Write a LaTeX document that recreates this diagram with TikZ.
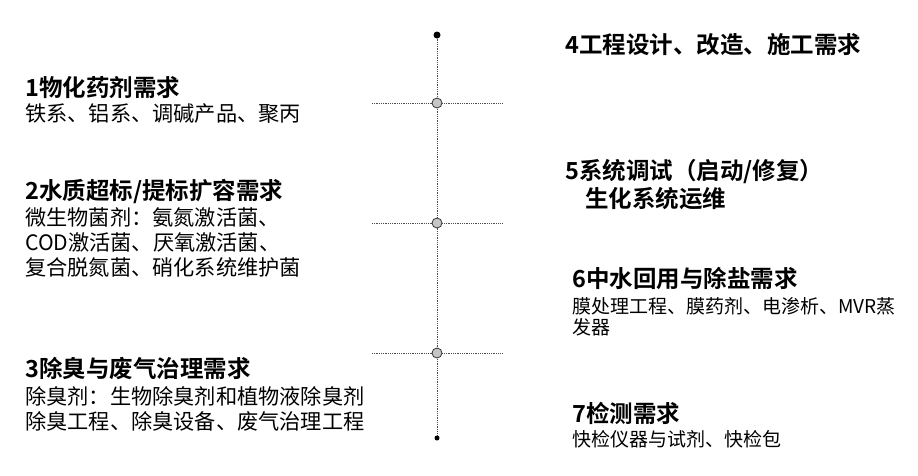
\documentclass[tikz,border=0pt]{standalone}
\usepackage{fontspec}
\setmainfont{Noto Sans CJK SC}
\newfontfamily\cjkb{Noto Sans CJK SC Bold}
\begin{document}
\begin{tikzpicture}[x=1pt,y=-1pt,
  ttl/.style={anchor=west,inner sep=0pt,font=\cjkb\fontsize{23.5}{26}\selectfont},
  bdy/.style={anchor=west,inner sep=0pt,font=\fontsize{21.2}{24}\selectfont},
  bdys/.style={anchor=west,inner sep=0pt,font=\fontsize{19}{22}\selectfont},
  dl/.style={densely dotted,line width=0.8pt,gray!60!black},
  pt/.style={circle,draw=black!80,fill=gray!45,line width=0.8pt,minimum size=10pt,inner sep=0pt}]
\useasboundingbox (0,0) rectangle (918,475);
\coordinate (top) at (437,35);
\coordinate (bot) at (437,438);
\draw[dl] (top) -- (bot);
\fill (top) circle (3.5);
\fill (bot) circle (2.5);
\foreach \y/\n in {103/a,223/b,353/c}{
  \coordinate (l\n) at (372,\y); \coordinate (r\n) at (503,\y);
  \draw[dl] (l\n) -- (r\n);
  \node[pt] (p\n) at (437,\y) {};
}
\node[ttl] (t1) at (25,88) {1物化药剂需求};
\node[bdy] (b1) at (25,114) {铁系、铝系、调碱产品、聚丙};
\node[ttl] (t2) at (25,192) {2水质超标/提标扩容需求};
\node[bdy] (b2a) at (25,217) {微生物菌剂：氨氮激活菌、};
\node[bdy] (b2b) at (25,242) {COD激活菌、厌氧激活菌、};
\node[bdy] (b2c) at (25,267) {复合脱氮菌、硝化系统维护菌};
\node[ttl] (t3) at (25,369) {3除臭与废气治理需求};
\node[bdy] (b3a) at (25,396) {除臭剂：生物除臭剂和植物液除臭剂};
\node[bdy] (b3b) at (25,421) {除臭工程、除臭设备、废气治理工程};
\node[ttl] (t4) at (565,45) {4工程设计、改造、施工需求};
\node[ttl] (t5) at (565,172) {5系统调试（启动/修复）};
\node[ttl] (t5b) at (585,199) {生化系统运维};
\node[ttl] (t6) at (572,278) {6中水回用与除盐需求};
\node[bdys] (b6a) at (572,306) {膜处理工程、膜药剂、电渗析、MVR蒸};
\node[bdys] (b6b) at (572,327) {发器};
\node[ttl] (t7) at (572,413) {7检测需求};
\node[bdys] (b7) at (572,439) {快检仪器与试剂、快检包};
\end{tikzpicture}
\end{document}
